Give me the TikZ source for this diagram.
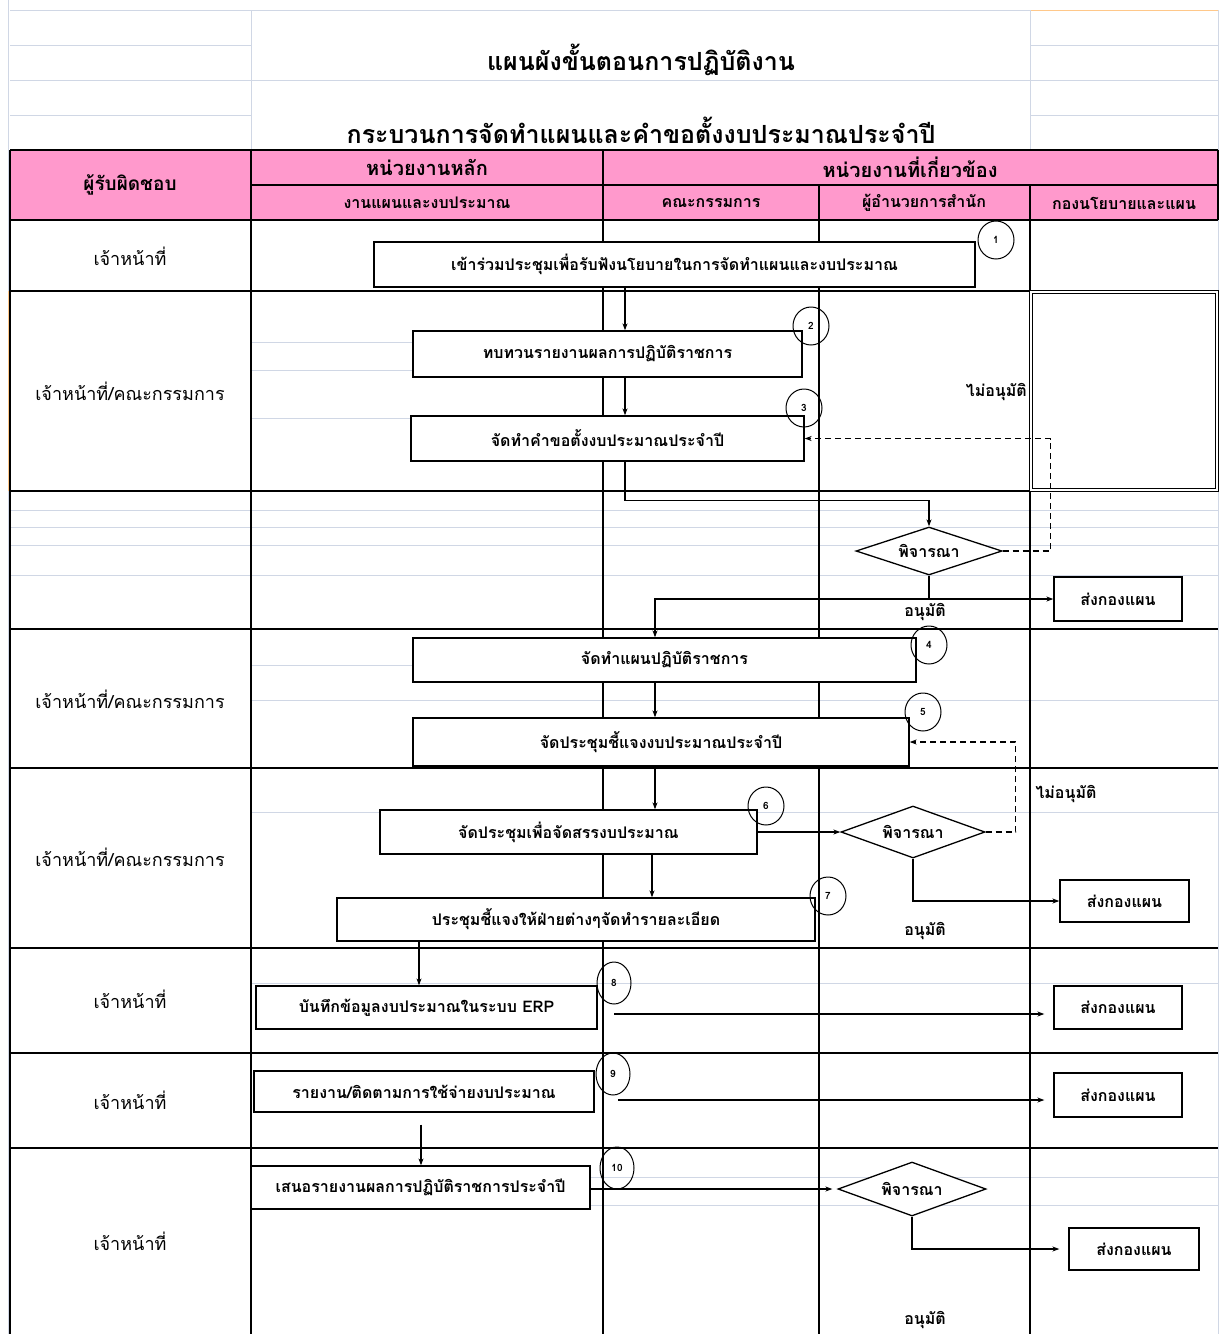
\documentclass[tikz,border=0pt]{standalone}
\usepackage{fontspec}
\setmainfont[Script=Thai]{Loma}
\usetikzlibrary{shapes.geometric,arrows.meta,calc}
\definecolor{hpink}{HTML}{FF99CC}
\definecolor{gridc}{HTML}{D0D7E5}
\definecolor{selc}{HTML}{FFC88A}
\begin{document}
\begin{tikzpicture}[x=1pt,y=-1pt,
  stepbox/.style={draw, line width=1.3pt, fill=white, inner sep=0,
     font=\bfseries\fontsize{16}{18}\selectfont},
  numc/.style={draw, ellipse, line width=1pt, minimum width=36, minimum height=38, inner sep=0,
     font=\bfseries\fontsize{10}{11}\selectfont},
  dec/.style={draw, diamond, aspect=2.8, line width=1.3pt, fill=white, inner sep=0,
     font=\bfseries\fontsize{16}{18}\selectfont},
  arr/.style={-{Stealth[length=7pt,width=5pt]}, line width=1.1pt},
  darr/.style={arr, dash pattern=on 6pt off 4pt},
  lbl/.style={font=\bfseries\fontsize{16}{18}\selectfont, inner sep=0},
  rowlbl/.style={font=\fontsize{18}{20}\selectfont, inner sep=0},
  hdr/.style={font=\bfseries\fontsize{20}{22}\selectfont, inner sep=0},
  subhdr/.style={font=\bfseries\fontsize{16}{18}\selectfont, inner sep=0},
  ttl/.style={font=\bfseries\fontsize{25}{28}\selectfont, inner sep=0},
  gl/.style={draw=gridc, line width=0.8pt},
  tl/.style={draw=black, line width=1.4pt}]
\useasboundingbox (0,0) rectangle (1227,1334);
\fill[white] (0,0) rectangle (1227,1334);

% ---- spreadsheet grid (light) ----
\draw[gl] (8,0) -- (8,1334);
\draw[gl] (10,10) -- (1030,10);
\draw[draw=selc, line width=1pt] (1030,10) -- (1218,10);
\foreach \yy in {45,115} {\draw[gl] (10,\yy) -- (251,\yy); \draw[gl] (1030,\yy) -- (1218,\yy);}
\draw[gl] (10,80) -- (1218,80);
\draw[gl] (251,10) -- (251,150);
\draw[gl] (1030,10) -- (1030,150);
\draw[gl] (1218,10) -- (1218,150);
\draw[gl] (1218,220) -- (1218,1334);
\draw[draw=selc, line width=1.2pt] (9,291) -- (9,491);
% body light lines
\draw[gl] (251,342) -- (413,342);
\draw[gl] (251,370) -- (413,370);
\draw[gl] (251,418) -- (411,418);
\foreach \yy in {510,527,545,575} {\draw[gl] (10,\yy) -- (1218,\yy);}
\draw[gl] (251,665) -- (413,665);
\draw[gl] (251,700) -- (1218,700);
\draw[gl] (251,812) -- (1218,812);
\draw[gl] (251,983) -- (1218,983);
\draw[gl] (251,1177) -- (1218,1177);
\draw[gl] (251,1205) -- (1218,1205);

% ---- title ----
\node[ttl] (title) at (641,60) {แผนผังขั้นตอนการปฏิบัติงาน};
\node[ttl] (subtitle) at (641,130) {กระบวนการจัดทำแผนและคำขอตั้งงบประมาณประจำปี};

% ---- header ----
\fill[hpink] (10,150) rectangle (1218,220);
\draw[tl] (10,150) -- (1218,150);
\draw[tl] (251,185) -- (1218,185);
\draw[tl] (10,220) -- (1218,220);
\draw[tl] (10,150) -- (10,1334);
\draw[tl] (1218,150) -- (1218,220);
\draw[tl] (251,150) -- (251,1334);
\draw[tl] (603,150) -- (603,1334);
\draw[tl] (819,185) -- (819,1334);
\draw[tl] (1030,185) -- (1030,1334);
\node[hdr, font=\bfseries\fontsize{19}{21}\selectfont] (h0) at (130,185) {ผู้รับผิดชอบ};
\node[hdr] (h1) at (427,167) {หน่วยงานหลัก};
\node[hdr] (h2) at (910,167) {หน่วยงานที่เกี่ยวข้อง};
\node[subhdr] (h3) at (427,203) {งานแผนและงบประมาณ};
\node[subhdr] (h4) at (711,203) {คณะกรรมการ};
\node[subhdr] (h5) at (924,203) {ผู้อำนวยการสำนัก};
\node[subhdr] (h6) at (1124,203) {กองนโยบายและแผน};

% ---- rows ----
\foreach \yy in {291,491,629,768,948,1053,1148} {\draw[tl] (10,\yy) -- (1218,\yy);}
\draw[black, line width=1pt, double=white, double distance=1.5pt] (1031,292) rectangle (1217,490);

\node[rowlbl] (r1) at (130,256) {เจ้าหน้าที่};
\node[rowlbl] (r2) at (130,391) {เจ้าหน้าที่/คณะกรรมการ};
\node[rowlbl] (r3) at (130,699) {เจ้าหน้าที่/คณะกรรมการ};
\node[rowlbl] (r4) at (130,857) {เจ้าหน้าที่/คณะกรรมการ};
\node[rowlbl] (r5) at (130,999) {เจ้าหน้าที่};
\node[rowlbl] (r6) at (130,1100) {เจ้าหน้าที่};
\node[rowlbl] (r7) at (130,1241) {เจ้าหน้าที่};

% ---- x guides ----
\coordinate (xa) at (625,0);
\coordinate (xb) at (655,0);
\coordinate (xc) at (652,0);
\coordinate (xd) at (419,0);
\coordinate (xe) at (421,0);

% ---- steps ----
\node[stepbox, minimum width=601, minimum height=45] (b1) at (674.5,264.5) {เข้าร่วมประชุมเพื่อรับฟังนโยบายในการจัดทำแผนและงบประมาณ};
\node[numc] (n1) at (996,240) {1};
\node[stepbox, minimum width=389, minimum height=46] (b2) at (607.5,354) {ทบทวนรายงานผลการปฏิบัติราชการ};
\node[numc] (n2) at (811,326) {2};
\node[stepbox, minimum width=393, minimum height=45] (b3) at (607.5,438.5) {จัดทำคำขอตั้งงบประมาณประจำปี};
\node[numc] (n3) at (804,408) {3};
\node[dec, minimum width=146, minimum height=48] (d1) at (929,551) {พิจารณา};
\node[stepbox, minimum width=128, minimum height=44] (s1) at (1118,599) {ส่งกองแผน};
\node[lbl, anchor=east] (na1) at (1027,392) {ไม่อนุมัติ};
\node[lbl] (a1) at (925,612) {อนุมัติ};

\node[stepbox, minimum width=503, minimum height=44] (b4) at (664.5,660) {จัดทำแผนปฏิบัติราชการ};
\node[numc] (n4) at (929,645) {4};
\node[stepbox, minimum width=496, minimum height=48] (b5) at (661,742) {จัดประชุมชี้แจงงบประมาณประจำปี};
\node[numc] (n5) at (923,712) {5};
\node[stepbox, minimum width=377, minimum height=44] (b6) at (568.5,832) {จัดประชุมเพื่อจัดสรรงบประมาณ};
\node[numc] (n6) at (766,806) {6};
\node[dec, minimum width=144, minimum height=52] (d2) at (913,832) {พิจารณา};
\node[lbl] (na2) at (1066,794) {ไม่อนุมัติ};
\node[stepbox, minimum width=129, minimum height=42] (s2) at (1124.5,901) {ส่งกองแผน};
\node[lbl] (a2) at (925,931) {อนุมัติ};
\node[stepbox, minimum width=478, minimum height=43] (b7) at (576,919.5) {ประชุมชี้แจงให้ฝ่ายต่างๆจัดทำรายละเอียด};
\node[numc] (n7) at (828,896) {7};

\node[stepbox, minimum width=341, minimum height=43] (b8) at (426.5,1007.5) {บันทึกข้อมูลงบประมาณในระบบ ERP};
\node[numc, minimum width=34, minimum height=42] (n8) at (614,983) {8};
\node[stepbox, minimum width=128, minimum height=43] (s3) at (1118,1007.5) {ส่งกองแผน};

\node[stepbox, minimum width=340, minimum height=41] (b9) at (424,1091.5) {รายงาน/ติดตามการใช้จ่ายงบประมาณ};
\node[numc, minimum width=34, minimum height=42] (n9) at (613,1074) {9};
\node[stepbox, minimum width=128, minimum height=44] (s4) at (1118,1095) {ส่งกองแผน};

\node[stepbox, minimum width=339, minimum height=43] (b10) at (420.5,1187.5) {เสนอรายงานผลการปฏิบัติราชการประจำปี};
\node[numc, minimum width=34, minimum height=42] (n10) at (617,1168) {10};
\node[dec, minimum width=148, minimum height=54] (d3) at (912,1189) {พิจารณา};
\node[stepbox, minimum width=130, minimum height=42] (s5) at (1134,1249) {ส่งกองแผน};
\node[lbl] (a3) at (925,1320) {อนุมัติ};

% ---- connectors ----
\draw[arr] (b1.south -| xa) -- (b2.north -| xa);
\draw[arr] (b2.south -| xa) -- (b3.north -| xa);
\draw[arr] (b3.south -| xa) -- ++(0,39) -| (d1.north);
\draw[arr] (d1.south) |- (s1.west);
\draw[arr] (d1.south |- s1.west) -| (b4.north -| xb);
\draw[darr] (d1.east) -- ++(48,0) |- (b3.east);
\draw[arr] (b4.south -| xb) -- (b5.north -| xb);
\draw[arr] (b5.south -| xb) -- (b6.north -| xb);
\draw[arr] (b6.east) -- (d2.west);
\draw[darr] (d2.east) -- ++(30,0) |- (b5.east);
\draw[arr] (d2.south) |- (s2.west);
\draw[arr] (b6.south -| xc) -- (b7.north -| xc);
\draw[arr] (b7.south -| xd) -- (b8.north -| xd);
\coordinate (o8) at (614,1014);
\draw[arr, shorten >=9pt] (o8) -- (o8 -| s3.west);
\coordinate (o9) at (618,1100);
\draw[arr, shorten >=9pt] (o9) -- (o9 -| s4.west);
\draw[arr, shorten <=12pt] (b9.south -| xe) -- (b10.north -| xe);
\draw[arr, shorten >=5pt] (d3.west -| b10.east) -- (d3.west);
\draw[arr, shorten >=9pt] (d3.south) |- (s5.west);
\end{tikzpicture}
\end{document}
